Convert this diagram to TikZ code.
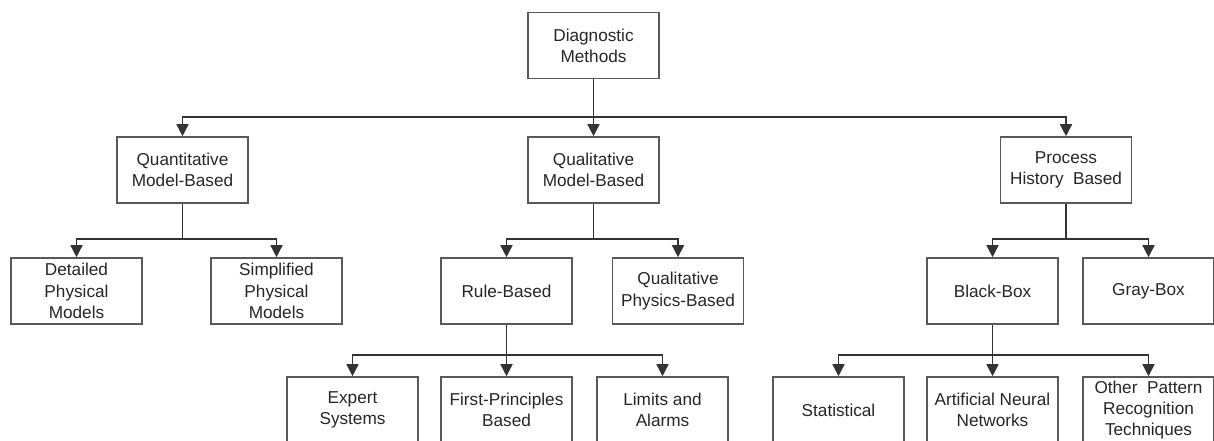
\documentclass[tikz,border=0pt]{standalone}
\usepackage{fontspec}
\setmainfont{Liberation Sans}
\usetikzlibrary{arrows.meta}
\begin{document}
\begin{tikzpicture}[x=0.5pt,y=-0.5pt,
  box/.style={draw=black!65,line width=0.8pt,minimum width=65.5pt,minimum height=33pt,inner sep=1pt,align=center,text=black!85,font=\fontsize{8.6pt}{10.6pt}\selectfont},
  arr/.style={draw=black!80,line width=0.75pt,-{Triangle[width=6pt,length=6pt]}},
  ln/.style={draw=black!80,line width=0.75pt}]
\useasboundingbox (0,0) rectangle (1214,440);
\clip (0,0) rectangle (1214,440);
% level 0
\node[box] (dm) at (593.5,45.5) {Diagnostic\\Methods};
% level 1
\node[box] (qt) at (182.5,170) {Quantitative\\Model-Based};
\node[box] (ql) at (593.5,170) {Qualitative\\Model-Based};
\node[box] (ph) at (1066,170) {Process\\History\ \ Based};
% level 2
\node[box] (dp) at (76.5,291) {Detailed\\Physical\\Models};
\node[box] (sp) at (276.5,291) {Simplified\\Physical\\Models};
\node[box] (rb) at (506.5,291) {Rule-Based};
\node[box] (qp) at (678,291) {Qualitative\\Physics-Based};
\node[box] (bb) at (992.5,291) {Black-Box};
\node[box] (gb) at (1148.5,291) {Gray-Box};
% level 3
\node[box] (es) at (352.5,410) {Expert\\Systems};
\node[box] (fp) at (506.5,410) {First-Principles\\Based};
\node[box] (la) at (662.5,410) {Limits and\\Alarms};
\node[box] (st) at (838.5,410) {Statistical};
\node[box] (ann) at (992.5,410) {Artificial Neural\\Networks};
\node[box] (op) at (1148.5,410) {Other\ \ Pattern\\Recognition\\Techniques};
% bar levels
\coordinate (b0) at (0,117);
\coordinate (b1) at (0,239);
\coordinate (b2) at (0,355);
% connectors level 0
\draw[arr] (dm.south) -- (ql.north);
\draw[arr] (dm.south |- b0) -| (qt.north);
\draw[arr] (dm.south |- b0) -| (ph.north);
% level 1
\draw[ln] (qt.south) -- (qt.south |- b1);
\draw[arr] (qt.south |- b1) -| (dp.north);
\draw[arr] (qt.south |- b1) -| (sp.north);
\draw[ln] (ql.south) -- (ql.south |- b1);
\draw[arr] (ql.south |- b1) -| (rb.north);
\draw[arr] (ql.south |- b1) -| (qp.north);
\draw[ln] (ph.south) -- (ph.south |- b1);
\draw[arr] (ph.south |- b1) -| (bb.north);
\draw[arr] (ph.south |- b1) -| (gb.north);
% level 2
\draw[arr] (rb.south) -- (fp.north);
\draw[arr] (rb.south |- b2) -| (es.north);
\draw[arr] (rb.south |- b2) -| (la.north);
\draw[arr] (bb.south) -- (ann.north);
\draw[arr] (bb.south |- b2) -| (st.north);
\draw[arr] (bb.south |- b2) -| (op.north);
\end{tikzpicture}
\end{document}
